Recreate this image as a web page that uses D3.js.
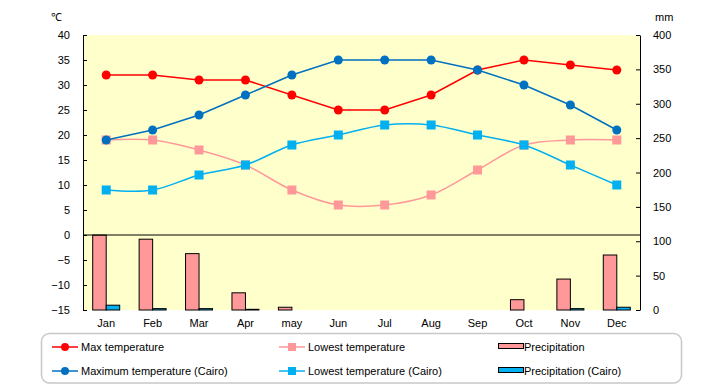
<!DOCTYPE html>
<html lang="en">
  <head>
    <meta charset="UTF-8" />
    <script src="https://d3js.org/d3.v7.min.js"></script>
    <title>Climate chart</title>
    <style>
      body {
        margin: 0;
        background: #fff;
      }
      svg text {
        font-family: "Liberation Sans", Arial, sans-serif;
        font-size: 11px;
        fill: #000;
      }
    </style>
  </head>
  <body>
    <svg id="chart" width="720" height="385"></svg>
    <script>
      const months = ["Jan", "Feb", "Mar", "Apr", "may", "Jun", "Jul", "Aug", "Sep", "Oct", "Nov", "Dec"];
      const maxTemp = [32, 32, 31, 31, 28, 25, 25, 28, 33, 35, 34, 33];
      const lowTemp = [19, 19, 17, 14, 9, 6, 6, 8, 13, 18, 19, 19];
      const maxTempCairo = [19, 21, 24, 28, 32, 35, 35, 35, 33, 30, 26, 21];
      const lowTempCairo = [9, 9, 12, 14, 18, 20, 22, 22, 20, 18, 14, 10];
      const precip = [109, 103, 82, 25, 4, 0, 0, 0, 0, 15, 45, 80];
      const precipCairo = [7, 2, 2, 1, 0, 0, 0, 0, 0, 0, 2, 4];
      const tempTicks = d3.range(-15, 41, 5);
      const mmTicks = d3.range(0, 401, 50);

      const plotL = 83, plotR = 640, plotT = 35, plotB = 310;
      const svg = d3.select("#chart");

      const x = d3.scaleBand().domain(months).range([plotL, plotR]);
      const y = d3.scaleLinear().domain([-15, 40]).range([plotB, plotT]);
      const y2 = d3.scaleLinear().domain([0, 400]).range([plotB, plotT]);
      const cx = m => x(m) + x.bandwidth() / 2;

      // plot background
      svg.append("rect")
        .attr("x", plotL).attr("y", plotT)
        .attr("width", plotR - plotL).attr("height", plotB - plotT)
        .attr("fill", "#ffffcc");

      // precipitation bars
      const barW = 13.5;
      svg.append("g").selectAll("rect")
        .data(months.map((m, i) => ({ m, v: precip[i] })).filter(d => d.v > 0))
        .join("rect")
        .attr("x", d => cx(d.m) - barW)
        .attr("y", d => y2(d.v))
        .attr("width", barW)
        .attr("height", d => plotB - y2(d.v))
        .attr("fill", "#ff9999")
        .attr("stroke", "#000")
        .attr("stroke-width", 1);

      svg.append("g").selectAll("rect")
        .data(months.map((m, i) => ({ m, v: precipCairo[i] })).filter(d => d.v > 0))
        .join("rect")
        .attr("x", d => cx(d.m))
        .attr("y", d => y2(d.v))
        .attr("width", barW)
        .attr("height", d => plotB - y2(d.v))
        .attr("fill", "#00b0f0")
        .attr("stroke", "#000")
        .attr("stroke-width", 1);

      // zero line
      svg.append("line")
        .attr("x1", plotL).attr("x2", plotR)
        .attr("y1", y(0)).attr("y2", y(0))
        .attr("stroke", "#000");

      // axes
      const yAxis = d3.axisLeft(y).tickValues(tempTicks).tickSizeInner(-4).tickSizeOuter(0).tickPadding(13);
      const gy = svg.append("g").attr("transform", `translate(${plotL},0)`).call(yAxis);
      const y2Axis = d3.axisRight(y2).tickValues(mmTicks).tickSizeInner(-4).tickSizeOuter(0).tickPadding(13);
      const gy2 = svg.append("g").attr("transform", `translate(${plotR},0)`).call(y2Axis);
      [gy, gy2].forEach(g => {
        g.select(".domain").attr("stroke", "#000");
        g.selectAll(".tick line").attr("stroke", "#000");
        g.selectAll("text").attr("font-size", 11).attr("font-family", null);
      });
      gy.selectAll("text").text(d => (d < 0 ? "\u2212" + -d : d));

      svg.append("g").selectAll("text")
        .data(months)
        .join("text")
        .attr("x", cx)
        .attr("y", 327)
        .attr("text-anchor", "middle")
        .text(d => d);

      svg.append("text").attr("x", 51).attr("y", 21).text("\u2103");
      svg.append("text").attr("x", 655).attr("y", 21).text("mm");

      // temperature lines
      const series = [
        { name: "Max temperature", data: maxTemp, color: "#ff0000", shape: "circle", curve: d3.curveLinear },
        { name: "Lowest temperature", data: lowTemp, color: "#ff9999", shape: "square", curve: d3.curveCatmullRom },
        { name: "Maximum temperature (Cairo)", data: maxTempCairo, color: "#0070c0", shape: "circle", curve: d3.curveLinear },
        { name: "Lowest temperature (Cairo)", data: lowTempCairo, color: "#00b0f0", shape: "square", curve: d3.curveCatmullRom }
      ];

      function marker(g, shape, color, px, py) {
        if (shape === "circle") {
          g.append("circle").attr("cx", px).attr("cy", py).attr("r", 4.5).attr("fill", color);
        } else {
          g.append("rect").attr("x", px - 4.5).attr("y", py - 4.5).attr("width", 9).attr("height", 9).attr("fill", color);
        }
      }

      // draw lowest lines first so max lines sit on top
      [series[1], series[3], series[0], series[2]].forEach(s => {
        const line = d3.line().x((d, i) => cx(months[i])).y(d => y(d)).curve(s.curve);
        const g = svg.append("g");
        g.append("path")
          .attr("d", line(s.data))
          .attr("fill", "none")
          .attr("stroke", s.color)
          .attr("stroke-width", 1.5);
        s.data.forEach((v, i) => marker(g, s.shape, s.color, cx(months[i]), y(v)));
      });

      // legend
      const lg = svg.append("g");
      lg.append("rect")
        .attr("x", 41.5).attr("y", 333.5)
        .attr("width", 640).attr("height", 49.5)
        .attr("rx", 8)
        .attr("fill", "#fff")
        .attr("stroke", "#c8c8c8")
        .attr("stroke-width", 1.5);

      const rows = [347, 371];
      const lineCols = [52, 279];
      const lineItems = [
        [series[0], 0, 0], [series[1], 1, 0],
        [series[2], 0, 1], [series[3], 1, 1]
      ];
      lineItems.forEach(([s, c, r]) => {
        const x0 = lineCols[c], yy = rows[r];
        lg.append("line")
          .attr("x1", x0).attr("x2", x0 + 26)
          .attr("y1", yy).attr("y2", yy)
          .attr("stroke", s.color).attr("stroke-width", 1.5);
        if (s.shape === "circle") {
          lg.append("circle").attr("cx", x0 + 13).attr("cy", yy).attr("r", 4).attr("fill", s.color);
        } else {
          lg.append("rect").attr("x", x0 + 9).attr("y", yy - 4).attr("width", 8).attr("height", 8).attr("fill", s.color);
        }
        lg.append("text").attr("x", x0 + 29).attr("y", yy + 4).text(s.name);
      });

      const barItems = [["Precipitation", "#ff9999"], ["Precipitation (Cairo)", "#00b0f0"]];
      barItems.forEach(([name, color], r) => {
        const yy = rows[r];
        lg.append("rect")
          .attr("x", 498.5).attr("y", yy - 3.5)
          .attr("width", 25).attr("height", 5)
          .attr("fill", color).attr("stroke", "#000").attr("stroke-width", 1);
        lg.append("text").attr("x", 524).attr("y", yy + 4).text(name);
      });
    </script>
  </body>
</html>
